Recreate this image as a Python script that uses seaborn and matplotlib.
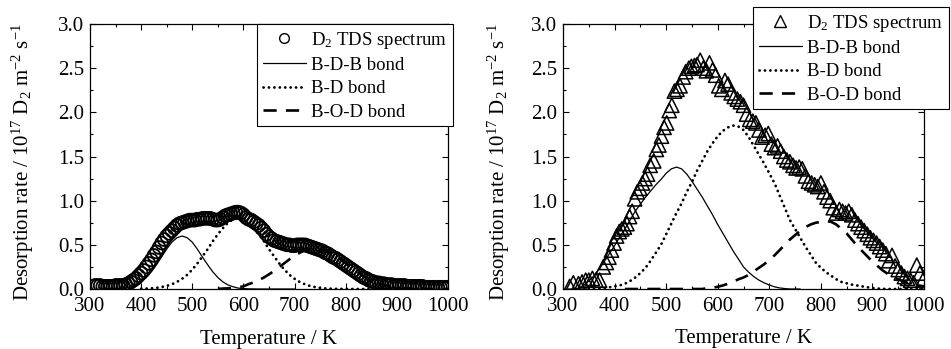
import matplotlib
matplotlib.use('Agg')
import matplotlib.pyplot as plt
import seaborn as sns
from matplotlib.ticker import MultipleLocator
from matplotlib.lines import Line2D

# ---------------- data ----------------
# Left panel: TDS spectrum (circles)
left_tds_T = list(range(310, 1001, 5))
left_tds_v = [
    0.04, 0.04, 0.04, 0.03, 0.03, 0.03, 0.03, 0.03, 0.04, 0.04,
    0.04, 0.04, 0.05, 0.06, 0.08, 0.10, 0.12, 0.15, 0.18, 0.21,
    0.25, 0.29, 0.33, 0.38, 0.42, 0.47, 0.52, 0.56, 0.60, 0.63,
    0.66, 0.69, 0.72, 0.74, 0.75, 0.76, 0.77, 0.78, 0.78, 0.78,
    0.79, 0.79, 0.80, 0.80, 0.80, 0.80, 0.79, 0.78, 0.78, 0.79,
    0.81, 0.83, 0.84, 0.85, 0.86, 0.87, 0.87, 0.86, 0.84, 0.81,
    0.79, 0.78, 0.76, 0.74, 0.72, 0.69, 0.66, 0.62, 0.59, 0.57,
    0.55, 0.54, 0.53, 0.52, 0.51, 0.50, 0.50, 0.49, 0.49, 0.50,
    0.50, 0.50, 0.50, 0.49, 0.48, 0.47, 0.46, 0.45, 0.44, 0.43,
    0.41, 0.40, 0.38, 0.36, 0.35, 0.33, 0.31, 0.29, 0.27, 0.25,
    0.23, 0.21, 0.19, 0.17, 0.15, 0.13, 0.12, 0.10, 0.09, 0.08,
    0.07, 0.07, 0.06, 0.06, 0.05, 0.05, 0.05, 0.04, 0.04, 0.04,
    0.04, 0.04, 0.03, 0.03, 0.03, 0.03, 0.03, 0.03, 0.03, 0.02,
    0.02, 0.02, 0.02, 0.02, 0.02, 0.02, 0.02, 0.02, 0.02,
]

# Left panel fitted components
left_bdb_T = list(range(350, 701, 10))
left_bdb_v = [
    0.003, 0.007, 0.014, 0.026, 0.048, 0.08, 0.13, 0.195, 0.275, 0.364,
    0.453, 0.53, 0.58, 0.60, 0.58, 0.53, 0.45, 0.36, 0.275, 0.195,
    0.13, 0.08, 0.045, 0.025, 0.01, 0.005, 0.002, 0.001, 0.0, 0.0,
    0.0, 0.0, 0.0, 0.0, 0.0, 0.0,
]
left_bd_T = list(range(400, 1001, 10))
left_bd_v = [
    0.003, 0.005, 0.008, 0.013, 0.022, 0.035, 0.054, 0.08, 0.116, 0.16,
    0.22, 0.29, 0.37, 0.45, 0.54, 0.62, 0.69, 0.75, 0.79, 0.80,
    0.79, 0.75, 0.69, 0.62, 0.54, 0.45, 0.37, 0.29, 0.22, 0.16,
    0.116, 0.08, 0.054, 0.035, 0.022, 0.013, 0.007, 0.004, 0.002, 0.001,
    0.0, 0.0, 0.0, 0.0, 0.0, 0.0, 0.0, 0.0, 0.0, 0.0,
    0.0, 0.0, 0.0, 0.0, 0.0, 0.0, 0.0, 0.0, 0.0, 0.0, 0.0,
]
left_bod_T = list(range(550, 1001, 10))
left_bod_v = [
    0.002, 0.005, 0.008, 0.012, 0.02, 0.03, 0.055, 0.075, 0.10, 0.13,
    0.166, 0.205, 0.248, 0.292, 0.336, 0.376, 0.41, 0.437, 0.454, 0.46,
    0.454, 0.437, 0.41, 0.376, 0.336, 0.292, 0.248, 0.205, 0.166, 0.13,
    0.10, 0.075, 0.055, 0.039, 0.027, 0.018, 0.012, 0.008, 0.005, 0.003,
    0.002, 0.001, 0.0, 0.0, 0.0, 0.0,
]

# Right panel: TDS spectrum (triangles)
right_tds_T = [
    313, 320, 330, 337, 344, 350, 357, 364, 371, 378,
    384, 389, 394, 399, 404, 409, 414, 419, 424, 429,
    434, 439, 444, 449, 454, 459, 464, 469, 476, 481,
    486, 491, 496, 501, 506, 511, 516, 521, 527, 533,
    538, 544, 549, 555, 560, 566, 572, 578, 584, 590,
    596, 602, 608, 614, 620, 626, 632, 638, 644, 650,
    656, 662, 668, 674, 680, 686, 692, 698, 704, 710,
    716, 722, 728, 734, 740, 746, 752, 758, 764, 770,
    776, 782, 788, 794, 800, 806, 812, 818, 824, 830,
    836, 842, 848, 854, 860, 866, 872, 878, 884, 890,
    896, 902, 908, 914, 920, 926, 932, 938, 944, 950,
    956, 962, 968, 974, 980, 986, 992, 998,
]
right_tds_v = [
    0.03, 0.07, 0.06, 0.08, 0.10, 0.10, 0.12, 0.10, 0.10, 0.25,
    0.30, 0.36, 0.44, 0.52, 0.60, 0.65, 0.68, 0.70, 0.74, 0.82,
    0.88, 1.02, 1.10, 1.14, 1.20, 1.25, 1.30, 1.40, 1.45, 1.58,
    1.63, 1.73, 1.83, 1.88, 2.02, 2.08, 2.24, 2.26, 2.30, 2.40,
    2.46, 2.50, 2.52, 2.53, 2.54, 2.59, 2.50, 2.47, 2.56, 2.48,
    2.42, 2.30, 2.26, 2.36, 2.32, 2.22, 2.18, 2.15, 2.12, 2.08,
    1.98, 1.92, 1.90, 1.88, 1.80, 1.72, 1.74, 1.76, 1.64, 1.60,
    1.62, 1.56, 1.50, 1.46, 1.44, 1.40, 1.37, 1.38, 1.36, 1.28,
    1.22, 1.20, 1.18, 1.16, 1.20, 1.10, 1.04, 1.00, 0.92, 0.86,
    0.90, 0.88, 0.86, 0.88, 0.84, 0.78, 0.74, 0.70, 0.66, 0.62,
    0.58, 0.55, 0.52, 0.48, 0.44, 0.40, 0.32, 0.38, 0.26, 0.22,
    0.18, 0.14, 0.12, 0.10, 0.07, 0.27, 0.18, 0.10,
]

# Right panel fitted components
right_bdb_T = list(range(310, 761, 10))
right_bdb_v = [
    0.0, 0.0, 0.01, 0.04, 0.09, 0.15, 0.23, 0.31, 0.40, 0.49,
    0.59, 0.68, 0.78, 0.88, 0.96, 1.04, 1.11, 1.18, 1.24, 1.31,
    1.36, 1.38, 1.36, 1.30, 1.22, 1.13, 1.04, 0.94, 0.84, 0.73,
    0.63, 0.53, 0.43, 0.34, 0.25, 0.19, 0.14, 0.10, 0.07, 0.045,
    0.025, 0.012, 0.005, 0.0, 0.0, 0.0,
]
right_bd_T = list(range(360, 1001, 10))
right_bd_v = [
    0.002, 0.005, 0.01, 0.02, 0.03, 0.04, 0.06, 0.09, 0.13, 0.18,
    0.24, 0.32, 0.41, 0.50, 0.62, 0.74, 0.86, 0.97, 1.10, 1.21,
    1.34, 1.45, 1.56, 1.65, 1.73, 1.79, 1.83, 1.85, 1.84, 1.80,
    1.72, 1.62, 1.52, 1.42, 1.31, 1.20, 1.06, 0.92, 0.78, 0.68,
    0.58, 0.48, 0.39, 0.30, 0.24, 0.19, 0.15, 0.11, 0.08, 0.065,
    0.05, 0.04, 0.03, 0.02, 0.01, 0.005, 0.002, 0.0, 0.0, 0.0,
    0.0, 0.0, 0.0, 0.0, 0.0,
]
right_bod_T = list(range(420, 1001, 10))
right_bod_v = [
    0.0, 0.0, 0.0, 0.0, 0.0, 0.0, 0.0, 0.0, 0.0, 0.0,
    0.0, 0.0, 0.0, 0.0, 0.0, 0.0, 0.01, 0.015, 0.025, 0.04,
    0.06, 0.08, 0.11, 0.13, 0.16, 0.20, 0.24, 0.28, 0.33, 0.38,
    0.44, 0.50, 0.56, 0.61, 0.66, 0.70, 0.73, 0.75, 0.76, 0.77,
    0.76, 0.73, 0.68, 0.63, 0.56, 0.49, 0.43, 0.37, 0.31, 0.26,
    0.21, 0.17, 0.14, 0.11, 0.085, 0.065, 0.05, 0.04, 0.03,
]

legend_labels = ['D$_2$ TDS spectrum', 'B-D-B bond', 'B-D bond', 'B-O-D bond']
x_ticks = [300, 400, 500, 600, 700, 800, 900, 1000]
y_ticks = [0.0, 0.5, 1.0, 1.5, 2.0, 2.5, 3.0]
xlabel = 'Temperature / K'
ylabel = 'Desorption rate / 10$^{17}$ D$_2$ m$^{-2}$ s$^{-1}$'

# ---------------- style ----------------
sns.set_theme(style='ticks')
plt.rcParams['font.family'] = ['Liberation Serif', 'DejaVu Serif']
plt.rcParams['mathtext.fontset'] = 'custom'
plt.rcParams['mathtext.rm'] = 'Liberation Serif'
plt.rcParams['mathtext.it'] = 'Liberation Serif:italic'
plt.rcParams['mathtext.bf'] = 'Liberation Serif:bold'
for k in ['text.color', 'axes.labelcolor', 'xtick.color', 'ytick.color', 'axes.edgecolor']:
    plt.rcParams[k] = 'black'

DOT = (0, (0.05, 1.9))
DASH = (0, (5, 3.5))

fig = plt.figure(figsize=(9.51, 3.49), dpi=100)
axL = fig.add_axes([90 / 951, 60 / 349, 358 / 951, 265 / 349])
axR = fig.add_axes([563 / 951, 60 / 349, 361 / 951, 265 / 349])


def draw(ax, tT, tv, marker, s, mlw, comps, leg_anchor, xlabelpad, ylab_x):
    sns.scatterplot(x=tT, y=tv, ax=ax, marker=marker, s=s, facecolors='none',
                    edgecolor='black', linewidth=mlw, zorder=2, legend=False)
    styles = [('-', 0.9, 'butt'), (DOT, 2.0, 'round'), (DASH, 1.9, 'butt')]
    for (T, v), (ls, lw, cap) in zip(comps, styles):
        sns.lineplot(x=T, y=v, ax=ax, color='black', linewidth=lw, linestyle=ls,
                     dash_capstyle=cap, estimator=None, sort=False, zorder=3,
                     legend=False)
    ax.set_xlim(300, 1000)
    ax.set_ylim(0, 3.0)
    ax.set_xticks(x_ticks)
    ax.set_yticks(y_ticks)
    ax.set_yticklabels([f'{t:.1f}' for t in y_ticks])
    ax.xaxis.set_minor_locator(MultipleLocator(50))
    ax.yaxis.set_minor_locator(MultipleLocator(0.25))
    ax.tick_params(which='both', direction='in', top=True, right=True,
                   width=0.8, labelsize=15)
    ax.tick_params(axis='x', which='both', pad=6)
    ax.tick_params(axis='y', which='both', pad=4)
    ax.tick_params(which='major', length=4)
    ax.tick_params(which='minor', length=2)
    for sp in ax.spines.values():
        sp.set_color('black')
        sp.set_linewidth(0.9)
    ax.set_xlabel(xlabel, fontsize=15, labelpad=xlabelpad)
    ax.set_ylabel(ylabel, fontsize=15)
    ax.yaxis.set_label_coords(ylab_x, 0.48)

    ms_marker = 7 if marker == 'o' else 8
    handles = [
        Line2D([], [], marker=marker, ls='none', mfc='none', mec='black', mew=1.0, ms=ms_marker),
        Line2D([], [], color='black', lw=0.9, ls='-'),
        Line2D([], [], color='black', lw=2.0, ls=DOT, dash_capstyle='round'),
        Line2D([], [], color='black', lw=1.9, ls=DASH),
    ]
    leg = ax.legend(handles, legend_labels, loc='upper left', bbox_to_anchor=leg_anchor,
                    bbox_transform=fig.transFigure, frameon=True, fancybox=False,
                    edgecolor='black', framealpha=1, fontsize=13.5, handlelength=2.3,
                    handletextpad=0.3, labelspacing=0.33, borderpad=0.3, borderaxespad=0)
    leg.get_frame().set_linewidth(0.8)
    leg.set_zorder(5)


draw(axL, left_tds_T, left_tds_v, 'o', 85, 1.3,
     [(left_bdb_T, left_bdb_v), (left_bd_T, left_bd_v), (left_bod_T, left_bod_v)],
     (257 / 951, 1 - 24 / 349), 10, -0.15)
draw(axR, right_tds_T, right_tds_v, '^', 105, 1.1,
     [(right_bdb_T, right_bdb_v), (right_bd_T, right_bd_v), (right_bod_T, right_bod_v)],
     (753 / 951, 1 - 7 / 349), 9, -0.14)

fig.savefig('out.png', dpi=100)
